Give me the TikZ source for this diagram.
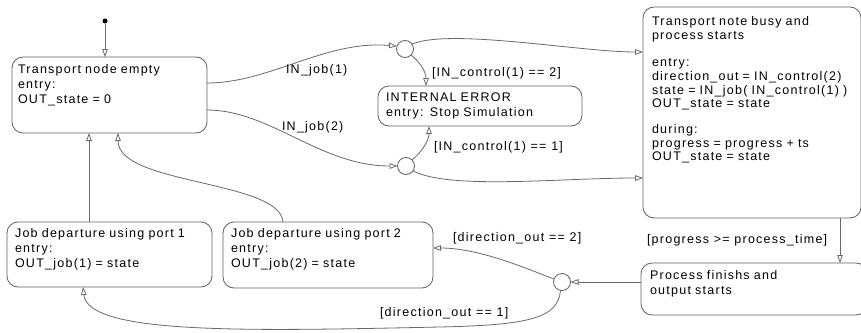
\documentclass[tikz,border=0pt]{standalone}
\usepackage{fontspec}
\newfontfamily\chartfont{Liberation Sans}[LetterSpace=10]
\usetikzlibrary{arrows.meta,calc}
\definecolor{linegray}{RGB}{105,105,105}
\definecolor{boxgray}{RGB}{95,95,95}

\begin{document}
\begin{tikzpicture}[x=1pt,y=-1pt,
  every node/.style={inner sep=0pt, outer sep=0pt},
  statebox/.style={draw=boxgray, line width=0.8pt, rounded corners=11pt, anchor=north west},
  junction/.style={circle, draw=boxgray, fill=white, line width=0.8pt, minimum size=17pt},
  body/.style={anchor=base west, align=left, font=\chartfont\fontsize{12.5}{15}\selectfont},
  lbl/.style={anchor=base west, font=\chartfont\fontsize{12.5}{15}\selectfont},
  trans/.style={draw=linegray, line width=0.8pt, -{Triangle[open, length=8pt, width=5.6pt]}},
]
\useasboundingbox (0,0) rectangle (861,332);
\clip (0,0) rectangle (861,332);

% states
\node[statebox, minimum width=195pt, minimum height=76pt] (A) at (12,57) {};
\node[statebox, minimum width=204pt, minimum height=40pt] (E) at (378,86) {};
\node[statebox, minimum width=218pt, minimum height=211pt] (C) at (643,7) {};
\node[statebox, minimum width=226pt, minimum height=52pt] (D) at (641,263) {};
\node[statebox, minimum width=205pt, minimum height=65pt] (P1) at (7,222) {};
\node[statebox, minimum width=210pt, minimum height=66pt] (P2) at (223,222) {};

% state contents
\node[body, text width=185pt] (Atxt) at (18,73.5) {Transport node empty\\entry:\\OUT\_state = 0};
\node[body, text width=195pt] (Etxt) at (386,101.5) {INTERNAL ERROR\\entry: Stop Simulation};
\node[body, text width=205pt, font=\chartfont\fontsize{12.5}{13.7}\selectfont] (Ctxt) at (652,25.5)
  {Transport note busy and\\process starts\\[13.7pt]entry:\\direction\_out = IN\_control(2)\\state = IN\_job( IN\_control(1) )\\OUT\_state = state\\[12pt]during:\\progress = progress + ts\\OUT\_state = state};
\node[body, text width=200pt] (Dtxt) at (650,279.5) {Process finishs and\\output starts};
\node[body, text width=195pt] (P1txt) at (15,237.5) {Job departure using port 1\\entry:\\OUT\_job(1) = state};
\node[body, text width=195pt] (P2txt) at (231,237.5) {Job departure using port 2\\entry:\\OUT\_job(2) = state};

% junctions and default transition
\node[junction] (J1) at (405,49) {};
\node[junction] (J2) at (406,166) {};
\node[junction] (J3) at (562,282) {};
\node[circle, fill=black, minimum size=5pt] (init) at (105,21) {};

% transitions
\draw[trans] (init) -- ($(A.north west)+(93,0)$);
\draw[trans] ($(A.north east)+(0,26)$) .. controls (270,83) and (325,40) .. (J1.160);
\draw[trans] ($(A.north east)+(0,53)$) .. controls (270,110) and (320,166) .. (J2.west);
\draw[trans] (J1.-45) .. controls (420,62) and (426,72) .. ($(E.north west)+(48,0)$);
\draw[trans] (J2.45) .. controls (422,152) and (429,140) .. ($(E.south west)+(51,0)$);
\draw[trans] (J1.35) .. controls (450,28) and (580,52) .. ($(C.north west)+(0,45)$);
\draw[trans] (J2.-35) .. controls (450,190) and (560,178) .. ($(C.north west)+(0,171)$);
\draw[trans] ($(C.south west)+(197,0)$) -- ($(D.north west)+(199,0)$);
\draw[trans] ($(D.north west)+(0,19)$) -- (J3.east);
\draw[trans] (J3.160) .. controls (530,270) and (480,248) .. ($(P2.north east)+(0,26)$);
\draw[trans] (J3.-100) .. controls (558,318) and (530,325) .. (440,327)
  .. controls (250,331) and (88,335) .. ($(P1.south west)+(76,0)$);
\draw[trans] ($(P1.north west)+(82,0)$) -- ($(A.south west)+(77,0)$);
\draw[trans] ($(P2.north west)+(60,0)$) .. controls (280,180) and (118,185) .. ($(A.south west)+(106,0)$);

% transition labels
\node[lbl] (l1) at (286,73.5) {IN\_job(1)};
\node[lbl] (l2) at (282,130.5) {IN\_job(2)};
\node[lbl] (l3) at (432,76.5) {[IN\_control(1) == 2]};
\node[lbl] (l4) at (434,150.5) {[IN\_control(1) == 1]};
\node[lbl] (l5) at (647,243.5) {[progress >= process\_time]};
\node[lbl] (l6) at (453,241.5) {[direction\_out == 2]};
\node[lbl] (l7) at (380,316.5) {[direction\_out == 1]};
\end{tikzpicture}
\end{document}
